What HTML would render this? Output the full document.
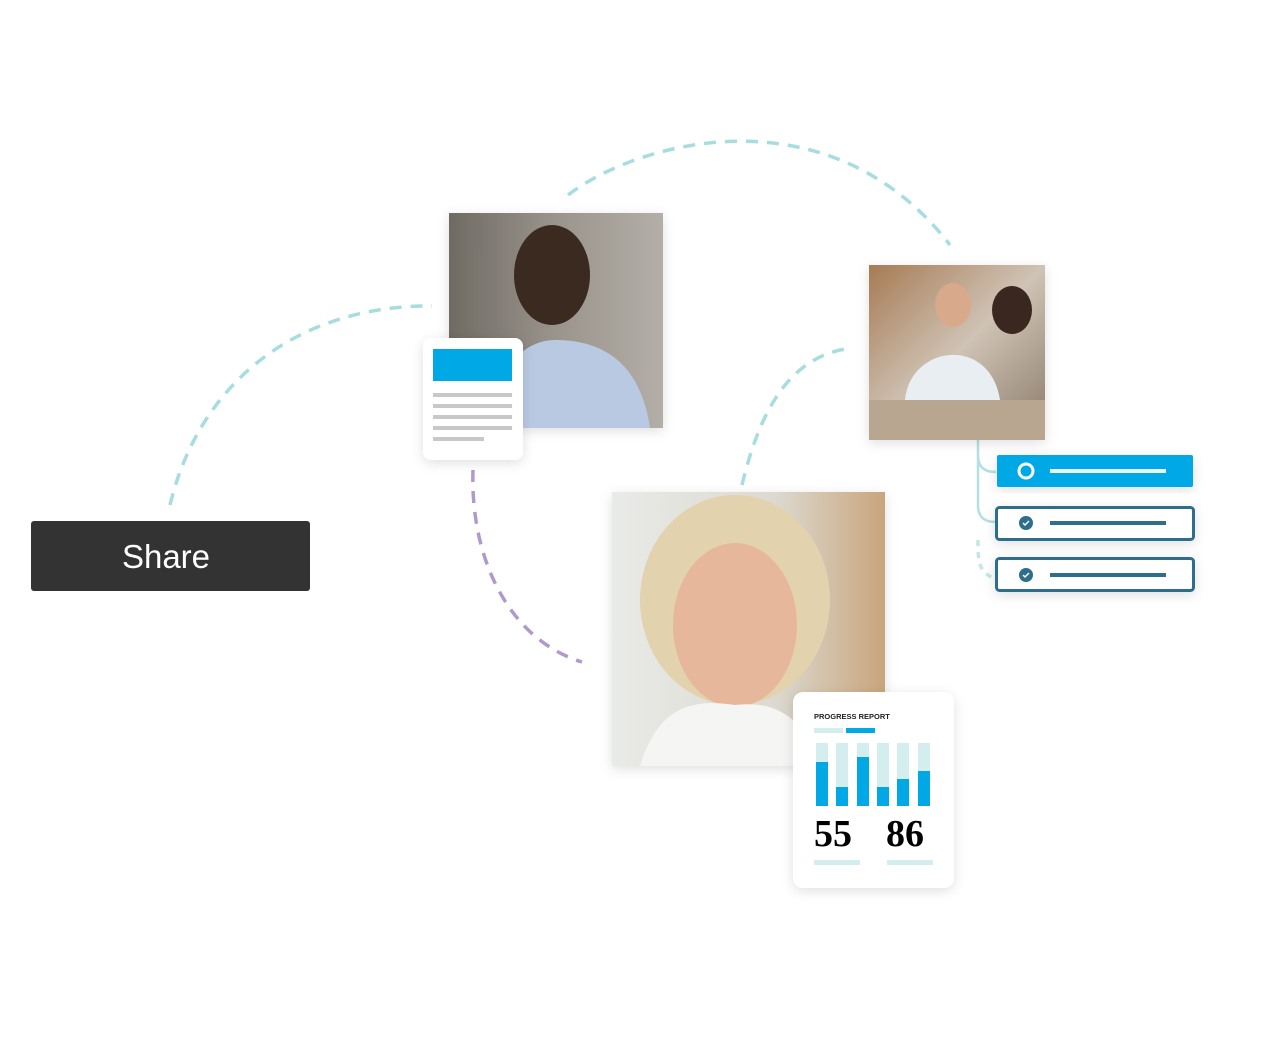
<!DOCTYPE html>
<html><head><meta charset="utf-8"><style>
html,body{margin:0;padding:0;background:#fff;}
body{width:1274px;height:1062px;position:relative;overflow:hidden;font-family:"Liberation Sans",sans-serif;}
</style></head><body>
<svg width="1274" height="1062" viewBox="0 0 1274 1062" xmlns="http://www.w3.org/2000/svg" style="position:absolute;left:0;top:0">
<defs>
<filter id="sh" x="-20%" y="-20%" width="140%" height="140%"><feDropShadow dx="0" dy="3" stdDeviation="6" flood-color="#000" flood-opacity="0.12"/></filter>
<linearGradient id="p1" x1="0" y1="0" x2="1" y2="0"><stop offset="0" stop-color="#6f6a63"/><stop offset="0.5" stop-color="#9a948c"/><stop offset="1" stop-color="#b3aea7"/></linearGradient>
<linearGradient id="p2" x1="0" y1="0" x2="1" y2="1"><stop offset="0" stop-color="#a77b54"/><stop offset="0.5" stop-color="#cfc3b5"/><stop offset="1" stop-color="#8a7a68"/></linearGradient>
<linearGradient id="p3" x1="0" y1="0" x2="1" y2="0"><stop offset="0" stop-color="#e9ebe8"/><stop offset="0.6" stop-color="#dcd9d0"/><stop offset="1" stop-color="#c9a57c"/></linearGradient>
</defs>
<g fill="none" stroke-width="3.5" stroke-dasharray="12 9">
<path d="M170 505 C 200 380, 300 305, 432 306" stroke="#a8dde0"/>
<path d="M568 195 C 640 140, 830 90, 950 245" stroke="#a8dde0"/>
<path d="M742 485 C 760 410, 790 355, 852 348" stroke="#a8dde0"/>
<path d="M473 470 C 470 560, 510 640, 582 662" stroke="#b09acb"/>
<path d="M978 540 C 978 560, 978 572, 994 578" stroke="#c4e6e8" stroke-dasharray="6 6"/>
</g>
<path d="M978 440 L978 455 C978 468 985 472 996 472" stroke="#b5e0e2" stroke-width="2.5" fill="none"/>
<path d="M978 455 L978 505 C978 518 985 522 996 522" stroke="#b5e0e2" stroke-width="2.5" fill="none"/>
<g filter="url(#sh)"><rect x="449" y="213" width="214" height="215" fill="url(#p1)"/></g>
<ellipse cx="552" cy="275" rx="38" ry="50" fill="#3b2a20"/>
<path d="M490 428 C 495 360, 530 340, 555 340 C 600 340, 640 360, 650 428 Z" fill="#b9c9e2"/>
<g filter="url(#sh)"><rect x="423" y="338" width="100" height="122" rx="8" fill="#fff"/></g>
<rect x="433" y="349" width="79" height="32" fill="#00a9e6"/>
<g fill="#c8c8c8"><rect x="433" y="393" width="79" height="4"/><rect x="433" y="404" width="79" height="4"/><rect x="433" y="415" width="79" height="4"/><rect x="433" y="426" width="79" height="4"/><rect x="433" y="437" width="51" height="4"/></g>
<g filter="url(#sh)"><rect x="869" y="265" width="176" height="175" fill="url(#p2)"/></g>
<ellipse cx="953" cy="305" rx="18" ry="22" fill="#d8a98a"/>
<ellipse cx="1012" cy="310" rx="20" ry="24" fill="#3a2820"/>
<path d="M905 400 C 910 345, 990 335, 1000 400 Z" fill="#e9eef3"/>
<rect x="869" y="400" width="176" height="40" fill="#b8a690"/>
<g filter="url(#sh)"><rect x="612" y="492" width="273" height="274" fill="url(#p3)"/></g>
<ellipse cx="735" cy="600" rx="95" ry="105" fill="#e3d2ae"/>
<ellipse cx="735" cy="625" rx="62" ry="82" fill="#e7b79c"/>
<path d="M640 766 C 660 700, 700 700, 735 705 C 780 700, 800 720, 830 766 Z" fill="#f5f5f3"/>
<g filter="url(#sh)"><rect x="793" y="692" width="161" height="196" rx="10" fill="#fff"/></g>
<text x="814" y="719" font-size="7.5" font-weight="bold" fill="#222" font-family="Liberation Sans, sans-serif">PROGRESS REPORT</text>
<rect x="814" y="728" width="29" height="5" fill="#d4eef0"/><rect x="846" y="728" width="29" height="5" fill="#00a9e6"/>
<g fill="#d4eef0"><rect x="816" y="743" width="12" height="63"/><rect x="836" y="743" width="12" height="63"/><rect x="857" y="743" width="12" height="63"/><rect x="877" y="743" width="12" height="63"/><rect x="897" y="743" width="12" height="63"/><rect x="918" y="743" width="12" height="63"/></g>
<g fill="#00a9e6"><rect x="816" y="762" width="12" height="44"/><rect x="836" y="787" width="12" height="19"/><rect x="857" y="757" width="12" height="49"/><rect x="877" y="787" width="12" height="19"/><rect x="897" y="779" width="12" height="27"/><rect x="918" y="771" width="12" height="35"/></g>
<text x="814" y="846" font-size="38" font-weight="bold" fill="#000" font-family="Liberation Serif, serif">55</text>
<text x="886" y="846" font-size="38" font-weight="bold" fill="#000" font-family="Liberation Serif, serif">86</text>
<rect x="814" y="860" width="46" height="5" fill="#d4eef0"/><rect x="887" y="860" width="46" height="5" fill="#d4eef0"/>
<g filter="url(#sh)"><rect x="997" y="455" width="196" height="32" rx="2" fill="#00a9e6"/></g>
<circle cx="1026" cy="471" r="7" fill="none" stroke="#fff" stroke-width="3"/>
<rect x="1050" y="469" width="116" height="4" fill="#e8f7fd"/>
<g filter="url(#sh)"><rect x="996.5" y="507.5" width="197" height="32" rx="3" fill="#fff" stroke="#2d6e8c" stroke-width="3"/>
<rect x="996.5" y="558.5" width="197" height="32" rx="3" fill="#fff" stroke="#2d6e8c" stroke-width="3"/></g>
<circle cx="1026" cy="523" r="7" fill="#2d6e8c"/><path d="M1023 523 l2 2 l4 -4" stroke="#fff" stroke-width="1.5" fill="none"/>
<circle cx="1026" cy="575" r="7" fill="#2d6e8c"/><path d="M1023 575 l2 2 l4 -4" stroke="#fff" stroke-width="1.5" fill="none"/>
<rect x="1050" y="521" width="116" height="4" fill="#2d6e8c"/>
<rect x="1050" y="573" width="116" height="4" fill="#2d6e8c"/>
<rect x="31" y="521" width="279" height="70" rx="3" fill="#333"/>
<text x="166" y="568" font-size="33" fill="#fff" text-anchor="middle" font-family="Liberation Sans, sans-serif">Share</text>
</svg>
</body></html>
